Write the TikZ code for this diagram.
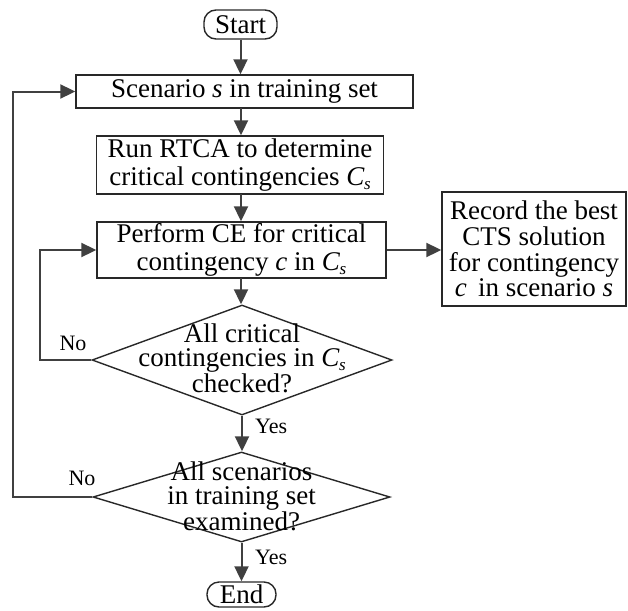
\documentclass[tikz,border=0pt]{standalone}
\usepackage{fontspec}
\setmainfont{Liberation Serif}
\usetikzlibrary{arrows.meta,shapes.geometric}
\newcommand{\myCs}{\textit{C}\kern-0.5pt\raisebox{-0.35ex}{\fontsize{17}{17}\selectfont\textit{s}}}
\definecolor{linec}{RGB}{64,64,64}
\definecolor{boxc}{RGB}{40,40,40}
\begin{document}
\begin{tikzpicture}[x=1pt,y=-1pt,
  box/.style={draw=boxc, line width=1.4pt, rectangle, inner sep=0pt, align=center, font=\fontsize{27}{28}\selectfont},
  term/.style={box, rounded corners=12pt},
  dec/.style={draw=boxc, line width=1.4pt, diamond, inner sep=0pt},
  dtext/.style={align=center, inner sep=0pt, font=\fontsize{27}{24.5}\selectfont},
  conn/.style={draw=linec, line width=2pt, -{Triangle[length=15pt,width=14pt]}},
  lbl/.style={inner sep=0pt, font=\fontsize{22}{22}\selectfont}]
\useasboundingbox (0,0) rectangle (628,610);

\node[term, minimum width=73pt, minimum height=29pt] (start) at (240.5,24.5) {Start};
\node[box, minimum width=337pt, minimum height=33pt] (scen) at (244.5,91.5) {Scenario \textit{s} in training set};
\node[box, minimum width=287pt, minimum height=58pt] (rtca) at (240,165) {Run RTCA to determine\\critical contingencies \myCs};
\node[box, minimum width=289pt, minimum height=56pt] (ce) at (241.5,250) {Perform CE for critical\\contingency \textit{c} in \myCs};
\node[box, minimum width=184pt, minimum height=114pt, font=\fontsize{27}{25.7}\selectfont] (rec) at (534,249) {Record the best\\CTS solution\\for contingency\\\textit{c}\, in scenario \textit{s}};
\node[dec, minimum width=300pt, minimum height=110pt] (d1) at (242,360) {};
\node[dtext] (d1t) at (242,358) {All critical\\contingencies in \myCs\\checked?};
\node[dec, minimum width=297pt, minimum height=90pt] (d2) at (241.5,497) {};
\node[dtext] (d2t) at (241.5,496) {All scenarios\\in training set\\examined?};
\node[term, minimum width=69pt, minimum height=25pt] (end) at (241.5,594.5) {End};

\coordinate (l1) at (40,360);
\coordinate (l2) at (13,497);

\draw[conn] (start.south) -- (start.south |- scen.north);
\draw[conn] (241,108) coordinate (s1) -- (s1 |- rtca.north);
\draw[conn] (241,194) coordinate (s2) -- (s2 |- ce.north);
\draw[conn] (241,278) coordinate (s3) -- (s3 |- d1.north);
\draw[conn] (ce.east) -- (ce.east -| rec.west);
\draw[conn] (d1.south) -- (d1.south |- d2.north);
\draw[conn] (d2.south) -- (d2.south |- end.north);
\draw[conn] (d1.west) -- (l1) |- (ce.west);
\draw[conn] (d2.west) -- (l2) |- (scen.west);

\node[lbl, anchor=west] (y1) at (255,426) {Yes};
\node[lbl, anchor=west] (y2) at (255,557) {Yes};
\node[lbl] (n1) at (73,343) {No};
\node[lbl] (n2) at (82,478) {No};
\end{tikzpicture}
\end{document}
